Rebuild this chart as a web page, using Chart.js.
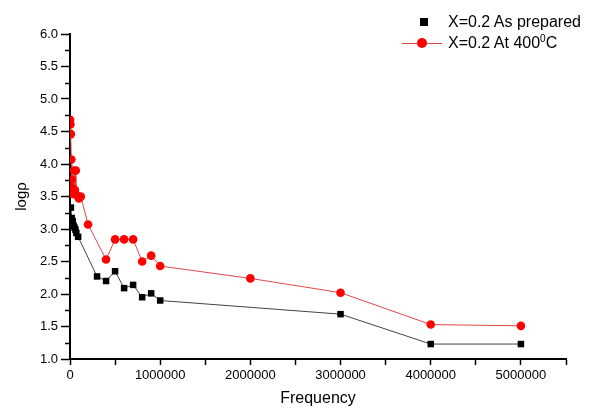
<!DOCTYPE html>
<html lang="en">
<head>
    <meta charset="UTF-8">
    <title>log rho vs Frequency</title>
    <script src="https://cdn.jsdelivr.net/npm/chart.js"></script>
    <style>
        body { margin: 0; background: #fff; font-family: Arial, 'Liberation Sans', sans-serif; }
        .wrap { position: relative; width: 604px; height: 408px; }
        .legend { position: absolute; left: 0; top: 0; font-size: 16px; color: #000; }
        .legend .row { position: absolute; white-space: nowrap; line-height: 18px; }
        .legend .sq { position: absolute; width: 8px; height: 8px; background: #000; }
        .legend .ln { position: absolute; width: 40px; height: 1px; background: #e04848; }
        .legend .dot { position: absolute; width: 10px; height: 10px; border-radius: 50%; background: #ff0000; }
        sup { font-size: 10px; vertical-align: 6px; line-height: 0; }
    </style>
</head>
<body>
<div class="wrap">
    <canvas id="rhoChart" width="604" height="408"></canvas>
    <div class="legend">
        <span class="sq" style="left:420px; top:18px;"></span>
        <span class="row" style="left:448px; top:13px;">X=0.2 As prepared</span>
        <span class="ln" style="left:402px; top:43px;"></span>
        <span class="dot" style="left:417px; top:38px;"></span>
        <span class="row" style="left:448px; top:34px;">X=0.2 At 400<sup>0</sup>C</span>
    </div>
</div>
<script>
    // values
    const preparedFreq = [10000, 20000, 30000, 40000, 50000, 60000, 70000, 90000, 300000, 400000, 500000, 600000, 700000, 800000, 900000, 1000000, 3000000, 4000000, 5000000];
    const preparedLog = [3.33, 3.17, 3.12, 3.05, 3.02, 2.99, 2.94, 2.88, 2.27, 2.20, 2.35, 2.09, 2.14, 1.95, 2.01, 1.90, 1.69, 1.23, 1.23];

    const annealedFreq = [1000, 5000, 10000, 15000, 20000, 25000, 30000, 45000, 55000, 65000, 75000, 100000, 120000, 200000, 400000, 500000, 600000, 700000, 800000, 900000, 1000000, 2000000, 3000000, 4000000, 5000000];
    const annealedLog = [4.68, 4.61, 4.46, 4.07, 3.76, 3.63, 3.54, 3.90, 3.60, 3.90, 3.52, 3.47, 3.50, 3.07, 2.53, 2.84, 2.84, 2.84, 2.50, 2.59, 2.43, 2.24, 2.02, 1.53, 1.51];

    const xMin = 0, xMax = 5500000, xStep = 500000;
    const yMin = 1, yMax = 6, yStep = 0.5;

    function toPoints(xs, ys) {
        return xs.map((x, i) => ({ x: x, y: ys[i] }));
    }

    // short minor ticks on the y axis between the labelled ones
    const minorTicks = {
        id: 'minorTicks',
        afterDraw(chart) {
            const ctx = chart.ctx;
            const y = chart.scales.y;
            ctx.save();
            ctx.strokeStyle = '#000';
            ctx.lineWidth = 1.5;
            for (let v = yMin + yStep / 2; v < yMax; v += yStep) {
                const py = Math.round(y.getPixelForValue(v)) + 0.5;
                ctx.beginPath();
                ctx.moveTo(y.right - 5, py);
                ctx.lineTo(y.right, py);
                ctx.stroke();
            }
            ctx.restore();
        }
    };

    const font = { family: 'Arial, "Liberation Sans", sans-serif', size: 13 };

    new Chart(document.getElementById('rhoChart'), {
        type: 'scatter',
        data: {
            datasets: [
                {
                    label: 'X=0.2 As prepared',
                    data: toPoints(preparedFreq, preparedLog),
                    showLine: true,
                    borderColor: '#444',
                    borderWidth: 1,
                    pointStyle: 'rect',
                    pointRadius: 4.6,
                    pointBackgroundColor: '#000',
                    pointBorderColor: '#000',
                    pointBorderWidth: 0,
                    order: 2
                },
                {
                    label: 'X=0.2 At 400°C',
                    data: toPoints(annealedFreq, annealedLog),
                    showLine: true,
                    borderColor: '#e04848',
                    borderWidth: 1,
                    pointStyle: 'circle',
                    pointRadius: 4.3,
                    pointBackgroundColor: '#ff0000',
                    pointBorderColor: '#ff0000',
                    pointBorderWidth: 0,
                    order: 1
                }
            ]
        },
        options: {
            responsive: false,
            animation: false,
            layout: { padding: { top: 34, right: 38, bottom: 0, left: 0 } },
            plugins: {
                legend: { display: false },
                tooltip: { enabled: false }
            },
            scales: {
                x: {
                    type: 'linear',
                    min: xMin,
                    max: xMax,
                    afterFit(scale) { scale.height = 49; },
                    grid: { drawOnChartArea: false, drawTicks: true, tickLength: 6, tickColor: '#000', tickWidth: 1.5 },
                    border: { display: true, color: '#000', width: 2 },
                    ticks: {
                        stepSize: xStep,
                        maxRotation: 0,
                        autoSkip: false,
                        padding: 3,
                        color: '#000',
                        font: font,
                        callback: v => (v % 1000000 === 0 ? String(v) : '')
                    },
                    title: {
                        display: true,
                        text: 'Frequency',
                        color: '#000',
                        font: { family: font.family, size: 16 },
                        padding: { top: 0, bottom: 0 }
                    }
                },
                y: {
                    min: yMin,
                    max: yMax,
                    afterFit(scale) { scale.width = 70; },
                    grid: { drawOnChartArea: false, drawTicks: true, tickLength: 9, tickColor: '#000', tickWidth: 1.5 },
                    border: { display: true, color: '#000', width: 2 },
                    ticks: {
                        stepSize: yStep,
                        padding: 3,
                        color: '#000',
                        font: font,
                        callback: v => v.toFixed(1)
                    },
                    title: {
                        display: true,
                        text: 'logρ',
                        color: '#000',
                        font: { family: font.family, size: 15 },
                        padding: { top: 13, bottom: 0 }
                    }
                }
            }
        },
        plugins: [minorTicks]
    });
</script>
</body>
</html>
